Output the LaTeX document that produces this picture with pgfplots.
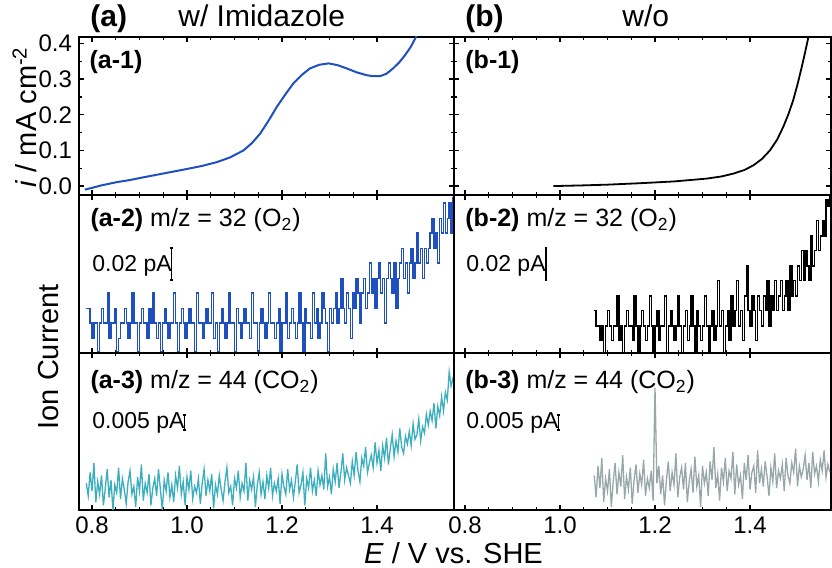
\documentclass[border=0pt]{standalone}
\usepackage{pgfplots}
\pgfplotsset{compat=1.18}
\usepackage{fontspec}
\setmainfont{Liberation Sans}
\definecolor{cblue}{HTML}{1E50C0}
\definecolor{cteal}{HTML}{3CAFBE}
\definecolor{cgray}{HTML}{98A8A8}
\newcommand{\fs}[1]{\fontsize{#1}{#1}\selectfont}
\tikzset{plab/.style={anchor=base west, inner sep=0pt, font=\fs{12.5}},
         sbar/.style={line width=0.6pt}}
\pgfplotsset{
 panel/.style={scale only axis, anchor=south west,
   axis line style={line width=0.75pt},
   every tick/.style={line width=0.6pt, black},
   major tick length=2.6pt, minor tick length=1.6pt, tick align=inside,
   xtick={0.8,1.0,1.2,1.4}, minor x tick num=3, xticklabels={},
   tick label style={font=\fs{12}}, clip=true},
 lcol/.style={xmin=0.7726, xmax=1.5621, width=187.5pt},
 rcol/.style={xmin=0.7768, xmax=1.5705, width=188.5pt},
 rowtop/.style={ymin=-0.025, ymax=0.418, height=79pt, ytick={0,0.1,0.2,0.3,0.4}, minor y tick num=1, yticklabels={}},
 rowmid/.style={ymin=0, ymax=100, height=79pt, ytick=\empty},
 rowbot/.style={ymin=0, ymax=100, height=78.5pt, ytick=\empty, xticklabels={0.8,1.0,1.2,1.4}},
}
\begin{document}
\begin{tikzpicture}
\useasboundingbox (-39.5pt,-29pt) rectangle (376.5pt,255pt);
% ---------- (a-1)
\begin{axis}[panel, lcol, rowtop, at={(0pt,157.5pt)}, yticklabels={0.0,0.1,0.2,0.3,0.4}]
\addplot[cblue, line width=1pt] coordinates {
(0.785,-0.010) (0.80,-0.005) (0.82,0.002) (0.852,0.011) (0.88,0.017) (0.91,0.025)
(0.957,0.037) (1.0,0.048) (1.03,0.056) (1.0625,0.067) (1.09,0.080) (1.119,0.100)
(1.137,0.121) (1.154,0.147) (1.172,0.184) (1.189,0.222) (1.207,0.257) (1.224,0.288)
(1.242,0.312) (1.259,0.330) (1.278,0.340) (1.298,0.344) (1.317,0.339) (1.336,0.330)
(1.357,0.319) (1.378,0.311) (1.392,0.308) (1.406,0.308) (1.42,0.315) (1.434,0.330)
(1.447,0.347) (1.459,0.367) (1.471,0.390) (1.482,0.418) (1.487,0.430)};
\node[plab] at (axis cs:0.794,0.331) {\textbf{(a-1)}};
\end{axis}
% ---------- (b-1)
\begin{axis}[panel, rcol, rowtop, at={(187.5pt,157.5pt)}]
\addplot[black, line width=0.9pt] coordinates {
(0.986,0.000) (1.05,0.002) (1.10,0.004) (1.168,0.008) (1.24,0.013) (1.309,0.021)
(1.34,0.027) (1.365,0.035) (1.388,0.045) (1.407,0.058) (1.425,0.076) (1.442,0.100)
(1.457,0.130) (1.470,0.166) (1.481,0.202) (1.491,0.241) (1.500,0.285) (1.509,0.334)
(1.516,0.375) (1.523,0.418) (1.526,0.440)};
\node[plab] at (axis cs:0.800,0.331) {\textbf{(b-1)}};
\end{axis}
% ---------- (a-2)
\begin{axis}[panel, lcol, rowmid, at={(0pt,78.5pt)}]
\addplot[cblue, line width=0.7pt, const plot] coordinates {
(0.788,28) (0.792,28) (0.796,19) (0.800,9) (0.804,19) (0.808,19) (0.812,1) (0.816,19) (0.820,28) (0.824,19)
(0.828,19) (0.832,38) (0.836,9) (0.840,19) (0.844,19) (0.848,28) (0.852,1) (0.856,9) (0.860,19) (0.864,19)
(0.868,28) (0.872,19) (0.876,9) (0.880,19) (0.884,38) (0.888,19) (0.892,19) (0.896,1) (0.900,19) (0.904,28)
(0.908,19) (0.912,19) (0.916,9) (0.920,28) (0.924,19) (0.928,38) (0.932,19) (0.936,9) (0.940,19) (0.944,1)
(0.948,19) (0.952,28) (0.956,19) (0.960,9) (0.964,19) (0.968,19) (0.972,38) (0.976,19) (0.980,1) (0.984,19)
(0.988,28) (0.992,19) (0.996,9) (1.000,19) (1.004,28) (1.008,19) (1.012,19) (1.016,1) (1.020,38) (1.024,19)
(1.028,19) (1.032,9) (1.036,19) (1.040,28) (1.044,19) (1.048,19) (1.052,38) (1.056,9) (1.060,19) (1.064,1)
(1.068,19) (1.072,28) (1.076,19) (1.080,9) (1.084,19) (1.088,38) (1.092,19) (1.096,19) (1.100,1) (1.104,28)
(1.108,19) (1.112,9) (1.116,19) (1.120,28) (1.124,19) (1.128,19) (1.132,9) (1.136,38) (1.140,19) (1.144,19)
(1.148,1) (1.152,19) (1.156,28) (1.160,19) (1.164,9) (1.168,19) (1.172,38) (1.176,19) (1.180,19) (1.184,9)
(1.188,19) (1.192,28) (1.196,1) (1.200,19) (1.204,19) (1.208,38) (1.212,9) (1.216,19) (1.220,28) (1.224,19)
(1.228,9) (1.232,19) (1.236,38) (1.240,19) (1.244,1) (1.248,28) (1.252,19) (1.256,19) (1.260,9) (1.264,38)
(1.268,19) (1.272,28) (1.276,9) (1.280,19) (1.284,38) (1.288,28) (1.292,19) (1.296,1) (1.300,28) (1.304,19)
(1.308,28) (1.312,38) (1.316,19) (1.320,28) (1.324,47) (1.328,28) (1.332,19) (1.336,38) (1.340,28) (1.344,9)
(1.348,38) (1.352,28) (1.356,47) (1.360,38) (1.364,19) (1.368,38) (1.372,47) (1.376,28) (1.380,38) (1.384,57)
(1.388,38) (1.392,47) (1.396,28) (1.400,47) (1.404,57) (1.408,38) (1.412,47) (1.416,19) (1.420,47) (1.424,57)
(1.428,47) (1.432,38) (1.436,57) (1.440,28) (1.444,47) (1.448,57) (1.452,66) (1.456,47) (1.460,57) (1.464,38)
(1.468,57) (1.472,66) (1.476,47) (1.480,57) (1.484,76) (1.488,57) (1.492,66) (1.496,47) (1.500,66) (1.504,57)
(1.508,66) (1.512,76) (1.516,85) (1.520,66) (1.524,76) (1.528,57) (1.532,85) (1.536,76) (1.540,95) (1.544,76)
(1.548,85) (1.552,95) (1.556,76) (1.560,98) (1.564,98)};
\node[plab] at (axis cs:0.796,80) {\textbf{(a-2)} m/z = 32 (O\textsubscript{2})};
\node[plab, font=\fs{11.5}] at (axis cs:0.800,51.5) {0.02 pA};
\draw[sbar] (axis cs:0.965,46.2) -- (axis cs:0.971,46.2) (axis cs:0.968,46.2) -- (axis cs:0.968,66.5) (axis cs:0.965,66.5) -- (axis cs:0.971,66.5);
\end{axis}
% ---------- (b-2)
\begin{axis}[panel, rcol, rowmid, at={(187.5pt,78.5pt)}]
\addplot[black, line width=0.7pt, const plot] coordinates {
(1.072,27) (1.076,17) (1.080,17) (1.084,8) (1.088,17) (1.092,0) (1.096,17) (1.100,27) (1.104,17) (1.108,8)
(1.112,17) (1.116,17) (1.120,36) (1.124,8) (1.128,17) (1.132,0) (1.136,17) (1.140,27) (1.144,17) (1.148,17)
(1.152,8) (1.156,36) (1.160,17) (1.164,0) (1.168,17) (1.172,27) (1.176,17) (1.180,8) (1.184,17) (1.188,36)
(1.192,17) (1.196,0) (1.200,17) (1.204,27) (1.208,8) (1.212,17) (1.216,17) (1.220,36) (1.224,0) (1.228,17)
(1.232,27) (1.236,17) (1.240,8) (1.244,17) (1.248,36) (1.252,17) (1.256,0) (1.260,17) (1.264,27) (1.268,8)
(1.272,17) (1.276,36) (1.280,17) (1.284,0) (1.288,27) (1.292,17) (1.296,8) (1.300,17) (1.304,36) (1.308,17)
(1.312,0) (1.316,17) (1.320,27) (1.324,8) (1.328,17) (1.332,46) (1.336,17) (1.340,27) (1.344,0) (1.348,17)
(1.352,27) (1.356,8) (1.360,36) (1.364,17) (1.368,27) (1.372,46) (1.376,17) (1.380,27) (1.384,8) (1.388,36)
(1.392,55) (1.396,27) (1.400,17) (1.404,36) (1.408,27) (1.412,8) (1.416,36) (1.420,27) (1.424,17) (1.428,36)
(1.432,27) (1.436,46) (1.440,17) (1.444,36) (1.448,27) (1.452,46) (1.456,27) (1.460,36) (1.464,46) (1.468,27)
(1.472,36) (1.476,46) (1.480,27) (1.484,55) (1.488,36) (1.492,46) (1.496,36) (1.500,55) (1.504,46) (1.508,65)
(1.512,46) (1.516,65) (1.520,55) (1.524,46) (1.528,74) (1.532,55) (1.536,65) (1.540,84) (1.544,65) (1.548,74)
(1.552,84) (1.556,74) (1.560,97) (1.564,93) (1.568,99) (1.572,99)};
\node[plab] at (axis cs:0.800,80) {\textbf{(b-2)} m/z = 32 (O\textsubscript{2})};
\node[plab, font=\fs{11.5}] at (axis cs:0.802,51.5) {0.02 pA};
\draw[sbar] (axis cs:0.9675,46.2) -- (axis cs:0.9735,46.2) (axis cs:0.9705,46.2) -- (axis cs:0.9705,66.5) (axis cs:0.9675,66.5) -- (axis cs:0.9735,66.5);
\end{axis}
% ---------- (a-3)
\begin{axis}[panel, lcol, rowbot, at={(0pt,0pt)}]
\addplot[cteal, line width=0.65pt] coordinates {
(0.788,17) (0.792,9) (0.796,24) (0.800,12) (0.804,30) (0.808,5) (0.812,18) (0.816,10) (0.820,22) (0.824,3)
(0.828,14) (0.832,26) (0.836,8) (0.840,19) (0.844,0) (0.848,16) (0.852,11) (0.856,27) (0.860,7) (0.864,20)
(0.868,13) (0.872,4) (0.876,18) (0.880,25) (0.884,10) (0.888,15) (0.892,2) (0.896,21) (0.900,12) (0.904,29)
(0.908,6) (0.912,17) (0.916,11) (0.920,23) (0.924,3) (0.928,14) (0.932,20) (0.936,9) (0.940,26) (0.944,13)
(0.948,0) (0.952,19) (0.956,12) (0.960,24) (0.964,8) (0.968,16) (0.972,5) (0.976,22) (0.980,14) (0.984,28)
(0.988,10) (0.992,18) (0.996,3) (1.000,21) (1.004,13) (1.008,25) (1.012,7) (1.016,15) (1.020,11) (1.024,20)
(1.028,4) (1.032,17) (1.036,26) (1.040,9) (1.044,19) (1.048,12) (1.052,23) (1.056,1) (1.060,16) (1.064,10)
(1.068,22) (1.072,13) (1.076,6) (1.080,18) (1.084,27) (1.088,11) (1.092,15) (1.096,3) (1.100,20) (1.104,14)
(1.108,25) (1.112,8) (1.116,17) (1.120,12) (1.124,30) (1.128,6) (1.132,19) (1.136,13) (1.140,21) (1.144,2)
(1.148,16) (1.152,24) (1.156,10) (1.160,18) (1.164,7) (1.168,22) (1.172,14) (1.176,27) (1.180,9) (1.184,17)
(1.188,12) (1.192,20) (1.196,4) (1.200,23) (1.204,15) (1.208,10) (1.212,26) (1.216,13) (1.220,19) (1.224,8)
(1.228,18) (1.232,29) (1.236,11) (1.240,16) (1.244,24) (1.248,3) (1.252,20) (1.256,14) (1.260,27) (1.264,12)
(1.268,19) (1.272,9) (1.276,25) (1.280,16) (1.284,22) (1.288,13) (1.292,36) (1.296,15) (1.300,21) (1.304,10)
(1.308,26) (1.312,18) (1.316,30) (1.320,14) (1.324,24) (1.328,36) (1.332,19) (1.336,27) (1.340,22) (1.344,17)
(1.348,31) (1.352,22) (1.356,37) (1.360,25) (1.364,18) (1.368,33) (1.372,28) (1.376,40) (1.380,24) (1.384,30)
(1.388,35) (1.392,27) (1.396,43) (1.400,30) (1.404,38) (1.408,25) (1.412,41) (1.416,33) (1.420,46) (1.424,29)
(1.428,39) (1.432,48) (1.436,34) (1.440,44) (1.444,37) (1.448,52) (1.452,40) (1.456,36) (1.460,47) (1.464,42)
(1.468,50) (1.472,41) (1.476,55) (1.480,45) (1.484,48) (1.488,58) (1.492,44) (1.496,53) (1.500,49) (1.504,61)
(1.508,54) (1.512,63) (1.516,57) (1.520,68) (1.524,52) (1.528,66) (1.532,60) (1.536,72) (1.540,63) (1.544,75)
(1.548,70) (1.552,88) (1.556,79) (1.560,84) (1.564,80)};
\node[plab] at (axis cs:0.796,77.5) {\textbf{(a-3)} m/z = 44 (CO\textsubscript{2})};
\node[plab, font=\fs{11.5}] at (axis cs:0.800,52) {0.005 pA};
\draw[sbar] (axis cs:0.991,51) -- (axis cs:0.997,51) (axis cs:0.994,51) -- (axis cs:0.994,60.5) (axis cs:0.991,60.5) -- (axis cs:0.997,60.5);
\end{axis}
% ---------- (b-3)
\begin{axis}[panel, rcol, rowbot, at={(187.5pt,0pt)}]
\addplot[cgray, line width=0.65pt] coordinates {
(1.072,22) (1.076,8) (1.080,28) (1.084,14) (1.088,33) (1.092,5) (1.096,20) (1.100,12) (1.104,26) (1.108,2)
(1.112,18) (1.116,30) (1.120,10) (1.124,24) (1.128,15) (1.132,35) (1.136,7) (1.140,21) (1.144,13) (1.148,27)
(1.152,4) (1.156,19) (1.160,29) (1.164,11) (1.168,23) (1.172,16) (1.176,32) (1.180,9) (1.184,20) (1.188,14)
(1.192,25) (1.196,6) (1.200,78) (1.204,17) (1.208,28) (1.212,10) (1.216,22) (1.220,3) (1.224,19) (1.228,31)
(1.232,12) (1.236,24) (1.240,16) (1.244,36) (1.248,8) (1.252,21) (1.256,27) (1.260,13) (1.264,30) (1.268,5)
(1.272,18) (1.276,26) (1.280,11) (1.284,34) (1.288,15) (1.292,22) (1.296,2) (1.300,28) (1.304,17) (1.308,24)
(1.312,9) (1.316,31) (1.320,19) (1.324,40) (1.328,14) (1.332,23) (1.336,6) (1.340,27) (1.344,18) (1.348,33)
(1.352,12) (1.356,25) (1.360,20) (1.364,37) (1.368,10) (1.372,29) (1.376,16) (1.380,22) (1.384,7) (1.388,30)
(1.392,19) (1.396,35) (1.400,13) (1.404,24) (1.408,28) (1.412,11) (1.416,38) (1.420,17) (1.424,26) (1.428,15)
(1.432,31) (1.436,21) (1.440,9) (1.444,27) (1.448,18) (1.452,36) (1.456,14) (1.460,25) (1.464,20) (1.468,29)
(1.472,12) (1.476,33) (1.480,22) (1.484,17) (1.488,30) (1.492,24) (1.496,39) (1.500,15) (1.504,28) (1.508,21)
(1.512,26) (1.516,35) (1.520,19) (1.524,30) (1.528,14) (1.532,37) (1.536,23) (1.540,28) (1.544,18) (1.548,32)
(1.552,25) (1.556,38) (1.560,21) (1.564,29) (1.568,24)};
\node[plab] at (axis cs:0.800,77.5) {\textbf{(b-3)} m/z = 44 (CO\textsubscript{2})};
\node[plab, font=\fs{11.5}] at (axis cs:0.802,52) {0.005 pA};
\draw[sbar] (axis cs:0.993,51) -- (axis cs:0.999,51) (axis cs:0.996,51) -- (axis cs:0.996,60.5) (axis cs:0.993,60.5) -- (axis cs:0.999,60.5);
\end{axis}
% ---------- titles and labels
\node[anchor=base west, inner sep=0pt, font=\fs{15}] at (5.5pt,241.7pt) {\textbf{(a)}};
\node[anchor=base west, inner sep=0pt, font=\fs{15}] at (49.5pt,241.7pt) {w/ Imidazole};
\node[anchor=base west, inner sep=0pt, font=\fs{15}] at (193pt,241.7pt) {\textbf{(b)}};
\node[anchor=base west, inner sep=0pt, font=\fs{15}] at (271.5pt,241.7pt) {w/o};
\node[rotate=90, anchor=base, inner sep=0pt, font=\fs{14.5}] at (-21pt,196.5pt) {\textit{i} / mA cm\textsuperscript{-2}};
\node[rotate=90, anchor=base, inner sep=0pt, font=\fs{14.5}] at (-10.4pt,76.6pt) {Ion Current};
\node[anchor=base, inner sep=0pt, font=\fs{14.5}] at (187.25pt,-27pt) {\textit{E} / V vs. SHE};
\end{tikzpicture}
\end{document}
